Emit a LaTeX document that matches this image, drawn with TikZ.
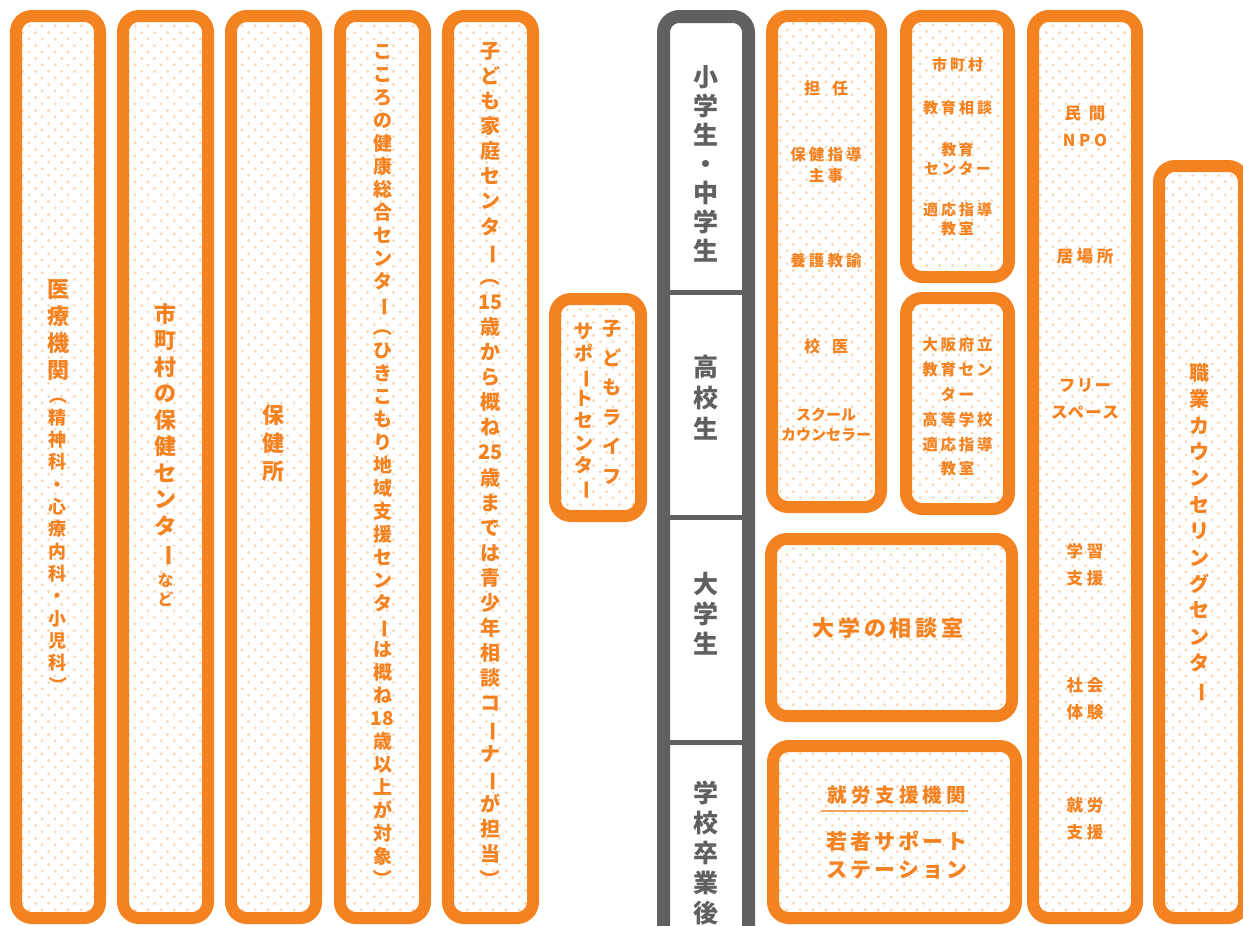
\documentclass[tikz,border=0pt]{standalone}
\usepackage{fontspec}
\setmainfont{Noto Sans CJK JP}
\usepackage{graphicx}
\usetikzlibrary{patterns.meta}
\definecolor{oc}{RGB}{245,130,32}
\definecolor{dc}{RGB}{252,212,176}
\definecolor{gc}{RGB}{96,96,96}
\definecolor{lc}{RGB}{247,165,100}
\tikzdeclarepattern{
  name=jpdots,
  type=uncolored,
  bottom left={(0pt,0pt)},
  top right={(13.3pt,13.3pt)},
  tile size={(13.3pt,13.3pt)},
  code={
    \fill (3.3pt,3.3pt) circle [radius=1.6pt];
    \fill (9.95pt,9.95pt) circle [radius=1.6pt];
  }
}
\newcommand\fs[2]{\fontsize{#1pt}{#2pt}\selectfont\bfseries}
\newcommand\R[1]{\rotatebox[origin=c]{-90}{#1}}
\def\vtend{VTEND}
\newcommand\vt[1]{\vbox{\lineskiplimit=-100pt\lineskip=0pt\relax\vtloop#1\vtend}}
\def\vtloop#1{\ifx\vtend#1\else\hbox to 1.2em{\hss#1\hss}\expandafter\vtloop\fi}
\tikzset{
  obox/.style={draw=oc, line width=12pt, rounded corners=16pt, pattern={jpdots}, pattern color=dc, inner sep=0pt},
  gline/.style={draw=gc, line width=13pt, rounded corners=16pt},
  gdiv/.style={draw=gc, line width=5pt},
  vtx/.style={text=oc, inner sep=0pt, anchor=north},
  gtx/.style={text=gc, inner sep=0pt, anchor=north},
  hl/.style={text=oc, inner sep=0pt, align=center},
  uline/.style={draw=lc, line width=1.5pt}
}
\begin{document}
\begin{tikzpicture}[x=1pt,y=-1pt]
\useasboundingbox (0,0) rectangle (1243,926);
\fill[white] (0,0) rectangle (1243,926);
% orange boxes
\node[obox, minimum width=84pt, minimum height=902pt] (b1) at (58,467) {};
\node[obox, minimum width=85pt, minimum height=902pt] (b2) at (165.5,467) {};
\node[obox, minimum width=85pt, minimum height=902pt] (b3) at (273.5,467) {};
\node[obox, minimum width=85pt, minimum height=902pt] (b4) at (382.5,467) {};
\node[obox, minimum width=85pt, minimum height=902pt] (b5) at (490.5,467) {};
\node[obox, minimum width=86pt, minimum height=217pt] (life) at (598,407.5) {};
\node[obox, minimum width=109pt, minimum height=491pt] (tan) at (826.5,261.5) {};
\node[obox, minimum width=103pt, minimum height=261pt] (city) at (957.5,146.5) {};
\node[obox, minimum width=103pt, minimum height=211pt] (osaka) at (957.5,403.5) {};
\node[obox, minimum width=241pt, minimum height=177pt] (univ) at (891.5,627.5) {};
\node[obox, minimum width=243pt, minimum height=172pt] (work) at (894.5,832) {};
\node[obox, minimum width=104pt, minimum height=902pt] (npo) at (1085,467) {};
\node[obox, minimum width=85pt, minimum height=752pt] (career) at (1201.5,542) {};
% grey column
\draw[gline] (663.5,940) |- (748.5,16.5) -- (748.5,940);
\draw[gdiv] (670,292.5) -- (742,292.5);
\draw[gdiv] (670,517.5) -- (742,517.5);
\draw[gdiv] (670,742) -- (742,742);
% vertical texts, left columns
\node[vtx, font={\fs{22}{27}}] (t1a) at (58,279) {\vt{医療機関}};
\node[vtx, font={\fs{18}{22.3}}] (t1b) at (58,386) {\vt{{\R{（}}精神科・心療内科・小児科{\R{）}}}};
\node[vtx, font={\fs{22}{26.5}}] (t2a) at (165.5,303) {\vt{市町村の保健センタ{\R{ー}}}};
\node[vtx, font={\fs{16}{19}}] (t2b) at (165.5,573) {\vt{など}};
\node[vtx, font={\fs{22}{28}}] (t3) at (273.5,405) {\vt{保健所}};
\node[vtx, font={\fs{19}{23}}] (t4) at (382.5,44) {\vt{こころの健康総合センタ{\R{ー}}{\R{（}}ひきこもり地域支援センタ{\R{ー}}は概ね{18}歳以上が対象{\R{）}}}};
\node[vtx, font={\fs{20}{25.1}}] (t5) at (490.5,42) {\vt{子ども家庭センタ{\R{ー}}{\R{（}}{15}歳から概ね{25}歳までは青少年相談コ{\R{ー}}ナ{\R{ー}}が担当{\R{）}}}};
\node[vtx, font={\fs{19}{29.5}}] (life1) at (612,320) {\vt{子どもライフ}};
\node[vtx, font={\fs{19}{22.3}}] (life2) at (584,323) {\vt{サポ{\R{ー}}トセンタ{\R{ー}}}};
% grey column texts
\node[gtx, font={\fs{25}{29}}] (g1) at (706,65) {\vt{小学生・中学生}};
\node[gtx, font={\fs{25}{31}}] (g2) at (706,355) {\vt{高校生}};
\node[gtx, font={\fs{25}{30}}] (g3) at (706,572) {\vt{大学生}};
\node[gtx, font={\fs{25}{30}}] (g4) at (706,781) {\vt{学校卒業後}};
% school box
\node[hl, font={\fs{16}{21}}] (s1) at (826,88) {担\kern12pt任};
\node[hl, font={\fs{15.5}{21}\addfontfeature{LetterSpace=20}}] (s2) at (826,165.5) {保健指導\\主事};
\node[hl, font={\fs{15.5}{21}\addfontfeature{LetterSpace=20}}] (s3) at (826,261) {養護教諭};
\node[hl, font={\fs{16}{21}}] (s4) at (826,346) {校\kern12pt医};
\node[hl, font={\fs{15}{20}}] (s5) at (826,425) {スクール\\カウンセラー};
% city box
\node[hl, font={\fs{15}{19}\addfontfeature{LetterSpace=20}}] (c1) at (957.5,65) {市町村};
\node[hl, font={\fs{15}{19}\addfontfeature{LetterSpace=20}}] (c2) at (957.5,108) {教育相談};
\node[hl, font={\fs{15}{19}\addfontfeature{LetterSpace=15}}] (c3) at (957.5,159.5) {教育\\センター};
\node[hl, font={\fs{15}{19}\addfontfeature{LetterSpace=20}}] (c4) at (957.5,219.5) {適応指導\\教室};
% osaka box
\node[hl, font={\fs{15.5}{24.8}\addfontfeature{LetterSpace=18}}] (o1) at (957.5,407) {大阪府立\\教育セン\\ター\\高等学校\\適応指導\\教室};
% university / work
\node[hl, font={\fs{22}{28}\addfontfeature{LetterSpace=18}}] (u1) at (888,628) {大学の相談室};
\node[hl, font={\fs{19.5}{25}\addfontfeature{LetterSpace=22}}] (w1) at (897,795) {就労支援機関};
\draw[uline] (821,811) -- (968,811);
\node[hl, font={\fs{21}{28}\addfontfeature{LetterSpace=14}}] (w2) at (897,855) {若者サポート\\ステーション};
% NPO box
\node[hl, font={\fs{16.5}{27}\addfontfeature{LetterSpace=22}}] (n1) at (1085,126.5) {民\kern8pt間\\NPO};
\node[hl, font={\fs{16.5}{27}\addfontfeature{LetterSpace=22}}] (n2) at (1085,256) {居場所};
\node[hl, font={\fs{16.5}{27}\addfontfeature{LetterSpace=8}}] (n3) at (1085,399) {フリー\\スペース};
\node[hl, font={\fs{16.5}{27}\addfontfeature{LetterSpace=22}}] (n4) at (1085,564.5) {学習\\支援};
\node[hl, font={\fs{16.5}{27}\addfontfeature{LetterSpace=22}}] (n5) at (1085,698.5) {社会\\体験};
\node[hl, font={\fs{16.5}{27}\addfontfeature{LetterSpace=22}}] (n6) at (1085,818.5) {就労\\支援};
% career
\node[vtx, font={\fs{20}{26.4}}] (k1) at (1199,363) {\vt{職業カウンセリングセンタ{\R{ー}}}};
\end{tikzpicture}
\end{document}
